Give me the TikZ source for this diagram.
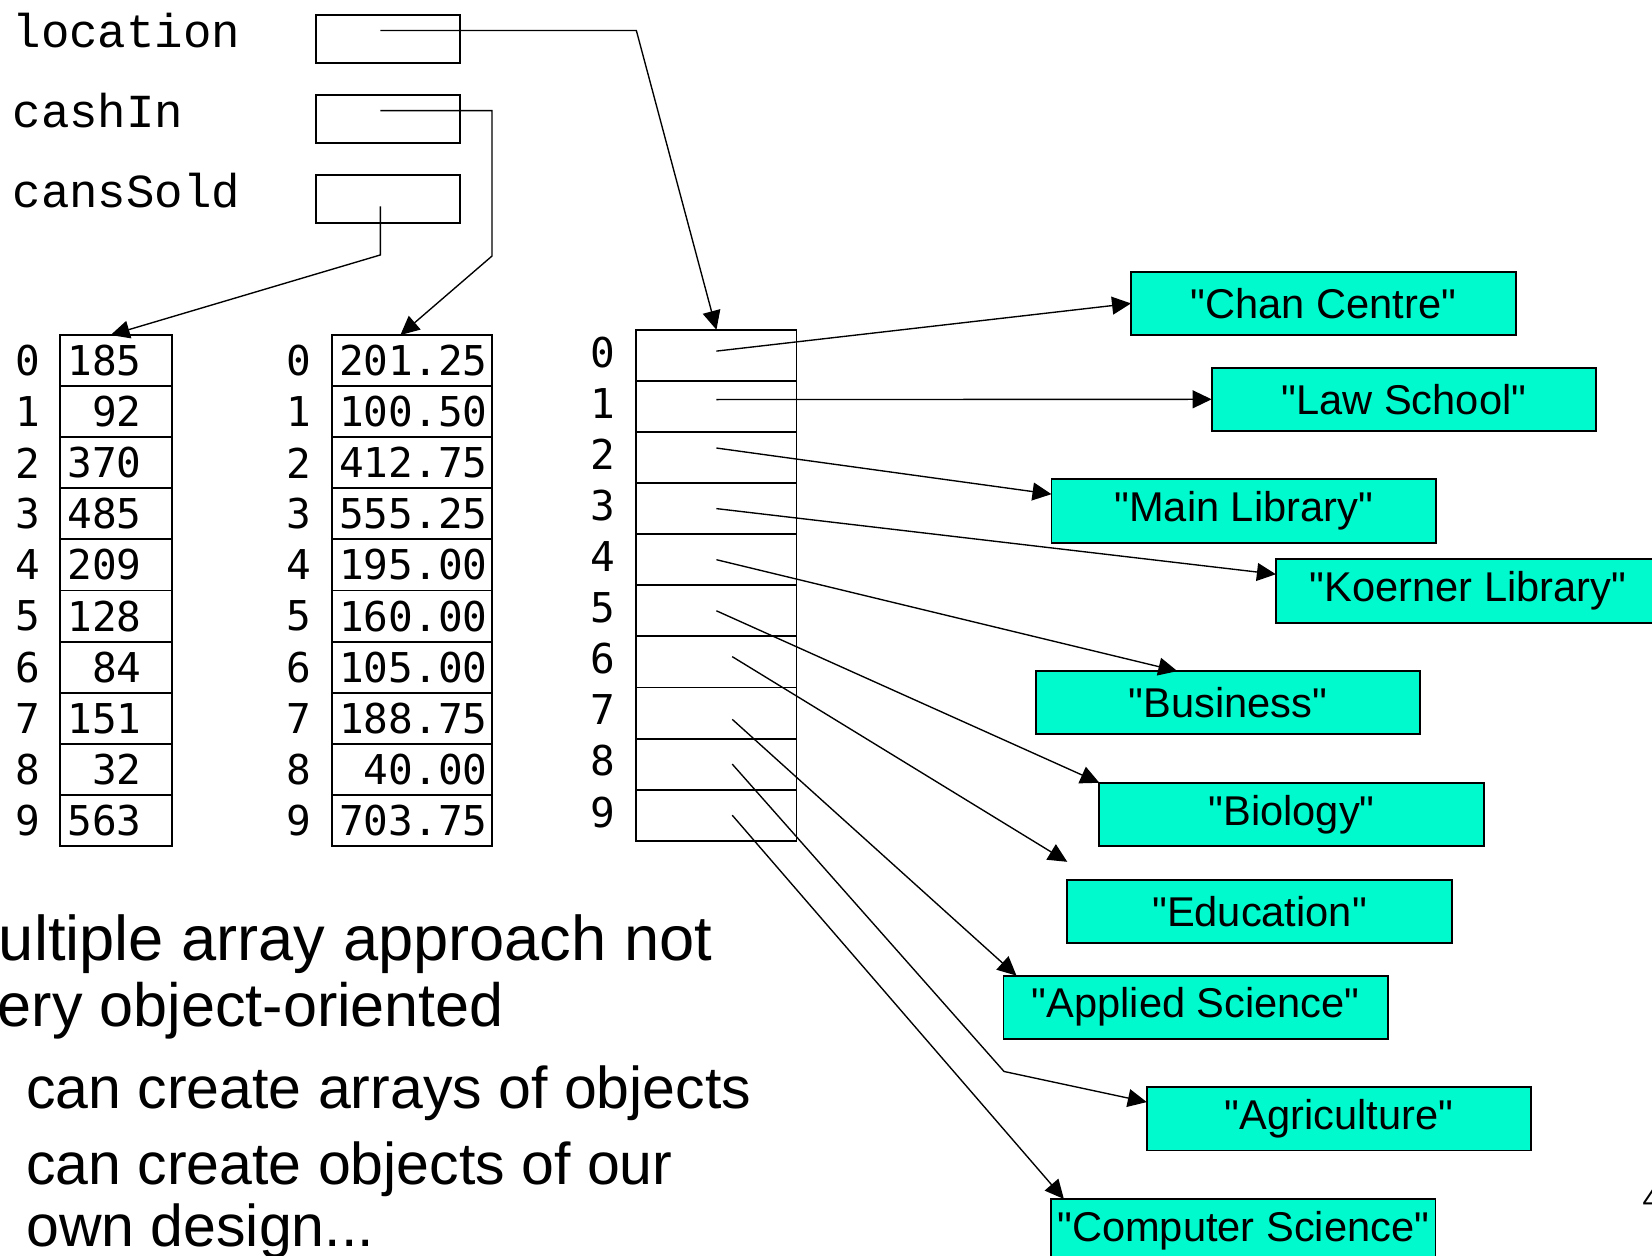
\documentclass[tikz,border=0pt]{standalone}
\usepackage{fontspec}
\setmainfont{Liberation Sans}[Ligatures=TeXOff]
\newfontfamily\namefont{Liberation Mono}
\newfontfamily\cellfont{DejaVu Sans Mono}
\usetikzlibrary{positioning,arrows.meta}
\definecolor{aqua}{RGB}{0,250,205}

\begin{document}
\begin{tikzpicture}
[x=0.5pt,y=-0.5pt,
 every node/.style={inner sep=0pt,outer sep=0pt},
 var/.style={draw,line width=0.9pt,minimum width=68.5pt,minimum height=23pt},
 vname/.style={anchor=base west,font=\namefont\fontsize{22.5}{27}\selectfont},
 cell/.style={draw,line width=0.9pt,minimum height=24.25pt,text height=14.2pt,text depth=0pt,
              inner xsep=3.5pt,align=left,font=\cellfont\fontsize{19.5}{24}\selectfont},
 soldcell/.style={cell,text width=46pt},
 cashcell/.style={cell,text width=69pt},
 slot/.style={draw,line width=0.9pt,minimum width=76pt,minimum height=24.25pt},
 idx/.style={font=\cellfont\fontsize{19.5}{24}\selectfont},
 str/.style={draw,line width=0.9pt,fill=aqua,minimum width=182.5pt,minimum height=30pt,
             font=\fontsize{19.75}{24}\selectfont},
 body/.style={anchor=base west,font=\fontsize{28}{34}\selectfont},
 head/.style={anchor=base west,font=\fontsize{30}{36}\selectfont},
 ptr/.style={-{Triangle[length=9pt,width=8.5pt]},line width=0.65pt}]
\useasboundingbox (0,0) rectangle (1568,1192);
\clip (0,0) rectangle (1568,1192);
% variables
\node[vname] (nloc)  at (12,45)  {location};
\node[vname] (ncash) at (12,121) {cashIn};
\node[vname] (nsold) at (12,197) {cansSold};
\node[var] (vloc)  at (368.5,37)                  {};
\node[var] (vcash) [on grid,below=38pt of vloc]  {};
\node[var] (vsold) [on grid,below=38pt of vcash] {};
% cansSold array
\node[soldcell] (sold0) at (110,342.25)                   {185};
\node[soldcell] (sold1) [on grid,below=24.25pt of sold0] {\phantom{0}92};
\node[soldcell] (sold2) [on grid,below=24.25pt of sold1] {370};
\node[soldcell] (sold3) [on grid,below=24.25pt of sold2] {485};
\node[soldcell] (sold4) [on grid,below=24.25pt of sold3] {209};
\node[soldcell] (sold5) [on grid,below=24.25pt of sold4] {128};
\node[soldcell] (sold6) [on grid,below=24.25pt of sold5] {\phantom{0}84};
\node[soldcell] (sold7) [on grid,below=24.25pt of sold6] {151};
\node[soldcell] (sold8) [on grid,below=24.25pt of sold7] {\phantom{0}32};
\node[soldcell] (sold9) [on grid,below=24.25pt of sold8] {563};
\node[idx] (isold0) [on grid,left=42pt of sold0] {0};
\node[idx] (isold1) [on grid,left=42pt of sold1] {1};
\node[idx] (isold2) [on grid,left=42pt of sold2] {2};
\node[idx] (isold3) [on grid,left=42pt of sold3] {3};
\node[idx] (isold4) [on grid,left=42pt of sold4] {4};
\node[idx] (isold5) [on grid,left=42pt of sold5] {5};
\node[idx] (isold6) [on grid,left=42pt of sold6] {6};
\node[idx] (isold7) [on grid,left=42pt of sold7] {7};
\node[idx] (isold8) [on grid,left=42pt of sold8] {8};
\node[idx] (isold9) [on grid,left=42pt of sold9] {9};
% cashIn array
\node[cashcell] (cash0) at (391,342.25)                   {201.25};
\node[cashcell] (cash1) [on grid,below=24.25pt of cash0] {100.50};
\node[cashcell] (cash2) [on grid,below=24.25pt of cash1] {412.75};
\node[cashcell] (cash3) [on grid,below=24.25pt of cash2] {555.25};
\node[cashcell] (cash4) [on grid,below=24.25pt of cash3] {195.00};
\node[cashcell] (cash5) [on grid,below=24.25pt of cash4] {160.00};
\node[cashcell] (cash6) [on grid,below=24.25pt of cash5] {105.00};
\node[cashcell] (cash7) [on grid,below=24.25pt of cash6] {188.75};
\node[cashcell] (cash8) [on grid,below=24.25pt of cash7] {\phantom{0}40.00};
\node[cashcell] (cash9) [on grid,below=24.25pt of cash8] {703.75};
\node[idx] (icash0) [on grid,left=53.5pt of cash0] {0};
\node[idx] (icash1) [on grid,left=53.5pt of cash1] {1};
\node[idx] (icash2) [on grid,left=53.5pt of cash2] {2};
\node[idx] (icash3) [on grid,left=53.5pt of cash3] {3};
\node[idx] (icash4) [on grid,left=53.5pt of cash4] {4};
\node[idx] (icash5) [on grid,left=53.5pt of cash5] {5};
\node[idx] (icash6) [on grid,left=53.5pt of cash6] {6};
\node[idx] (icash7) [on grid,left=53.5pt of cash7] {7};
\node[idx] (icash8) [on grid,left=53.5pt of cash8] {8};
\node[idx] (icash9) [on grid,left=53.5pt of cash9] {9};
% location array
\node[slot] (loc0) at (680,337.25)                  {};
\node[slot] (loc1) [on grid,below=24.25pt of loc0] {};
\node[slot] (loc2) [on grid,below=24.25pt of loc1] {};
\node[slot] (loc3) [on grid,below=24.25pt of loc2] {};
\node[slot] (loc4) [on grid,below=24.25pt of loc3] {};
\node[slot] (loc5) [on grid,below=24.25pt of loc4] {};
\node[slot] (loc6) [on grid,below=24.25pt of loc5] {};
\node[slot] (loc7) [on grid,below=24.25pt of loc6] {};
\node[slot] (loc8) [on grid,below=24.25pt of loc7] {};
\node[slot] (loc9) [on grid,below=24.25pt of loc8] {};
\node[idx] (iloc0) [on grid,above left=1.5pt and 54pt of loc0] {0};
\node[idx] (iloc1) [on grid,above left=1.5pt and 54pt of loc1] {1};
\node[idx] (iloc2) [on grid,above left=1.5pt and 54pt of loc2] {2};
\node[idx] (iloc3) [on grid,above left=1.5pt and 54pt of loc3] {3};
\node[idx] (iloc4) [on grid,above left=1.5pt and 54pt of loc4] {4};
\node[idx] (iloc5) [on grid,above left=1.5pt and 54pt of loc5] {5};
\node[idx] (iloc6) [on grid,above left=1.5pt and 54pt of loc6] {6};
\node[idx] (iloc7) [on grid,above left=1.5pt and 54pt of loc7] {7};
\node[idx] (iloc8) [on grid,above left=1.5pt and 54pt of loc8] {8};
\node[idx] (iloc9) [on grid,above left=1.5pt and 54pt of loc9] {9};
% strings
\node[str] (chan) at (1256,288)    {"Chan Centre"};
\node[str] (law)  at (1332.5,379)  {"Law School"};
\node[str] (main) at (1180.5,485)  {"Main Library"};
\node[str] (koer) at (1393.5,561)  {"Koerner Library"};
\node[str] (bus)  at (1165.5,667)  {"Business"};
\node[str] (bio)  at (1226,773)    {"Biology"};
\node[str] (edu)  at (1195.5,865)  {"Education"};
\node[str] (appl) at (1135,956)    {"Applied Science"};
\node[str] (agr)  at (1271,1062)   {"Agriculture"};
\node[str] (cs)   at (1180,1168)   {"Computer Science"};
% references
\coordinate (ploc)   at (361,29);
\coordinate (kloc)   at (604,29);
\coordinate (pcash)  at (361,105);
\coordinate (kcashA) at (467,105);
\coordinate (kcashB) at (467,243);
\coordinate (psold)  at (361,196);
\coordinate (ksold)  at (361,242);
\coordinate (kagr)   at (953,1017);
\draw[ptr] (ploc)  -- (kloc) -- (loc0.north);
\draw[ptr] (pcash) -- (kcashA) -- (kcashB) -- ([xshift=-5.5pt]cash0.north);
\draw[ptr] (psold) -- (ksold) -- ([xshift=-2.5pt]sold0.north);
\draw[ptr] ([yshift=2pt]loc0.center)   -- (chan.west);
\draw[ptr] ([yshift=3.25pt]loc1.center) -- (law.west);
\draw[ptr] ([yshift=4.5pt]loc2.center) -- (main.175);
\draw[ptr] (loc3.center) -- (koer.175);
\draw[ptr] (loc4.center) -- (bus.148);
\draw[ptr] (loc5.center) -- (bio.north west);
\draw[ptr] ([xshift=7.5pt,yshift=2.5pt]loc6.center) -- ([yshift=8.5pt]edu.north west);
\draw[ptr] ([xshift=7.5pt,yshift=-3pt]loc7.center)  -- (appl.170);
\draw[ptr] ([xshift=7.5pt]loc8.center) -- (kagr) -- (agr.175);
\draw[ptr] ([xshift=7.5pt]loc9.center) -- (cs.170);
% text
\node[head] (t1) at (-1,912)  {ultiple array approach not};
\node[head,font=\fontsize{29}{35}\selectfont] (t2) at (-2,974) {ery object-oriented};
\node[body] (t3) at (25,1052) {can create arrays of objects};
\node[body] (t4) at (25,1124) {can create objects of our};
\node[body] (t5) at (25,1183) {own design...};
\node[anchor=base west,font=\fontsize{14}{16}\selectfont] (pnum) at (1559,1148) {4};
\end{tikzpicture}
\end{document}
